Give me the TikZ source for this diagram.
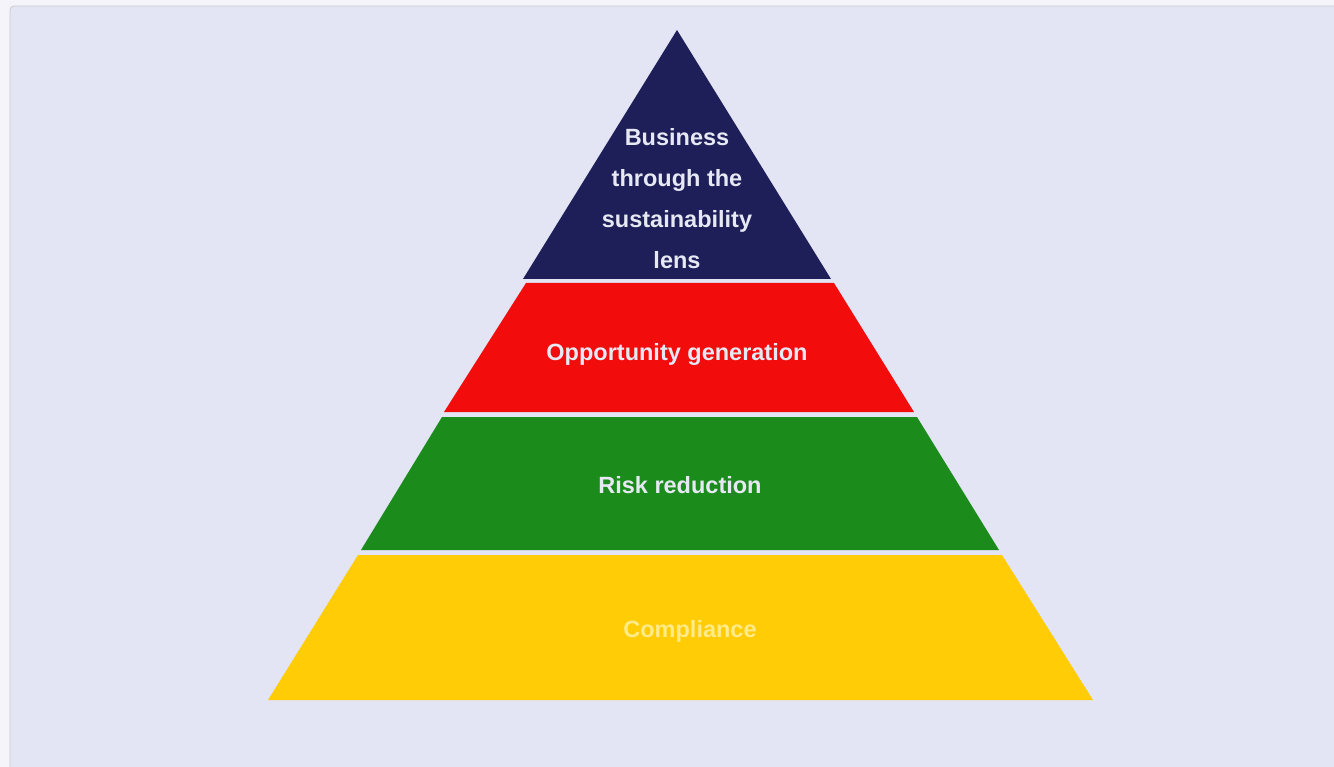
\documentclass[tikz,border=0pt]{standalone}
\usepackage{fontspec}
\setmainfont{Liberation Sans}
\definecolor{bgpage}{HTML}{F4F4FA}
\definecolor{slide}{HTML}{E3E5F5}
\definecolor{navy}{HTML}{1E1E58}
\definecolor{pred}{HTML}{F20C0C}
\definecolor{pgreen}{HTML}{1B8C1B}
\definecolor{pyellow}{HTML}{FFCC05}
\definecolor{ltext}{HTML}{E6E8F4}
\definecolor{ytext}{HTML}{FFEB8A}
\tikzset{
  x=1pt, y=-1pt,
  lbl/.style={font=\bfseries\fontsize{23.5}{41}\selectfont, text=ltext, align=center, inner sep=0pt}
}
\begin{document}
\begin{tikzpicture}
\useasboundingbox (0,0) rectangle (1334,767);
\fill[bgpage] (0,0) rectangle (1334,767);
\fill[slide, draw=gray!40, line width=0.8pt, rounded corners=4pt] (10,6) rectangle (1340,775);
% pyramid: apex (677,30), base (268,700)-(1093,700)
\fill[navy] (677,30) -- (831,279) -- (523,279) -- cycle;
\fill[pred] (526,283) -- (834,283) -- (914,412) -- (444,412) -- cycle;
\fill[pgreen] (442,417) -- (917,417) -- (999,550) -- (361,550) -- cycle;
\fill[pyellow] (358,555) -- (1002,555) -- (1093,700) -- (268,700) -- cycle;
\node[lbl] (top) at (677,199) {Business\\through the\\sustainability\\lens};
\node[lbl, anchor=base] (opp) at (677,361) {Opportunity generation};
\node[lbl, anchor=base] (risk) at (680,493) {Risk reduction};
\node[lbl, anchor=base, text=ytext] (comp) at (690,637) {Compliance};
\end{tikzpicture}
\end{document}
